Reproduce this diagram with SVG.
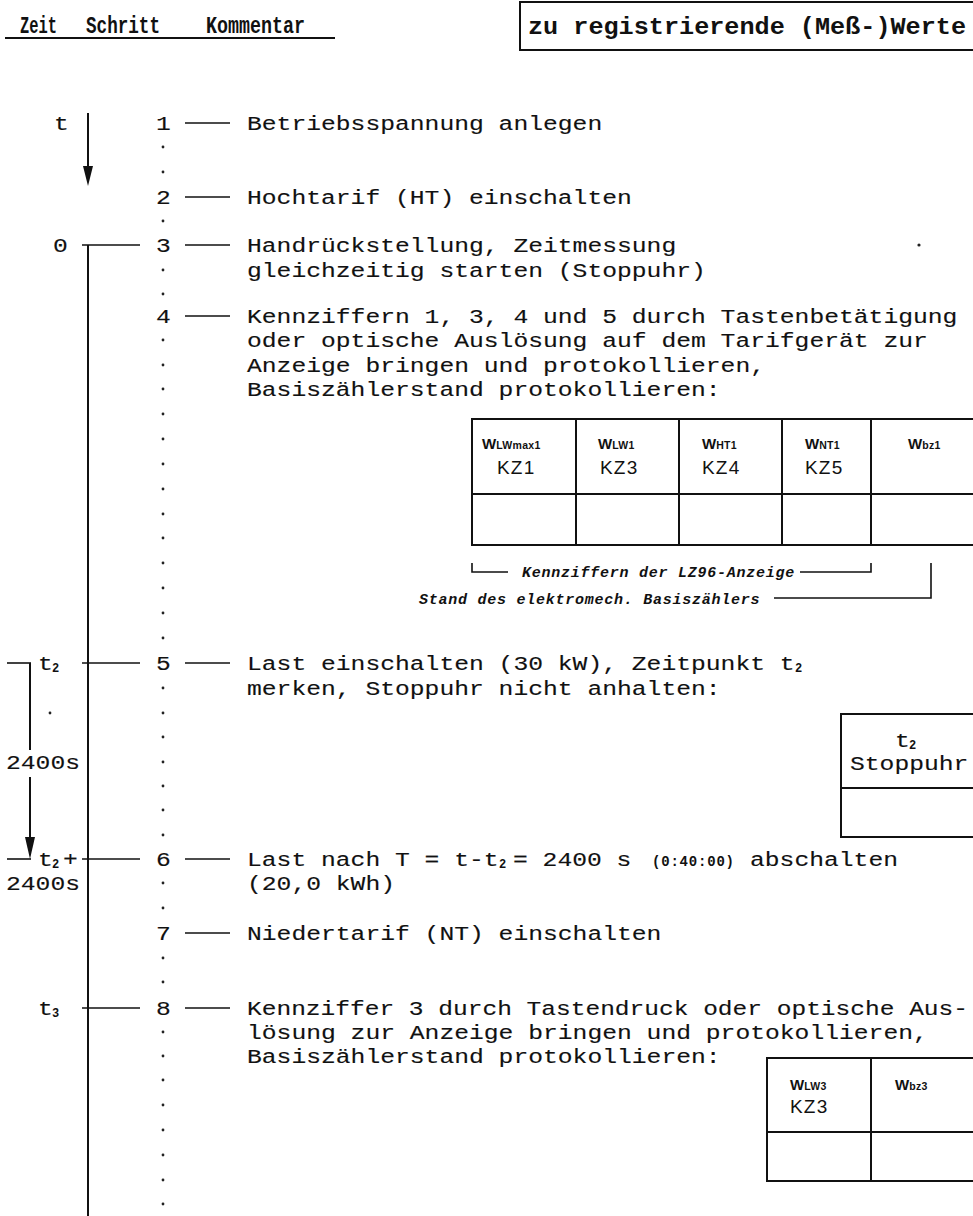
<svg xmlns="http://www.w3.org/2000/svg" width="973" height="1216" viewBox="0 0 973 1216">
<style>
.b{font-family:"Liberation Mono","DejaVu Sans Mono",monospace;font-size:20px;fill:#111;stroke:#111;stroke-width:0.12}
.h{font-family:"Liberation Mono",monospace;font-weight:bold;font-size:23px;fill:#111}
.s2{font-family:"Liberation Mono",monospace;font-size:12px;font-weight:bold;fill:#111}
.sub{font-size:10.5px;letter-spacing:0.3px}
.w{font-family:"Liberation Sans",sans-serif;font-size:15px;font-weight:bold;fill:#111}
.kz{font-family:"Liberation Sans",sans-serif;font-size:19px;letter-spacing:1.2px;fill:#111}
.it{font-family:"Liberation Mono",monospace;font-size:15px;font-weight:bold;font-style:italic;letter-spacing:0.75px;fill:#111}
.sm{font-family:"Liberation Mono",monospace;font-size:14px;font-weight:bold;letter-spacing:0.8px;fill:#111}
.ln{stroke:#111;stroke-width:2;fill:none}
.ds{stroke:#111;stroke-width:1.6;fill:none}
.dot{fill:#222}
</style>
<rect width="973" height="1216" fill="#fff"/>

<g id="header">
  <text class="h" x="20" y="33" textLength="37" lengthAdjust="spacingAndGlyphs">Zeit</text>
  <text class="h" x="86" y="33" textLength="74" lengthAdjust="spacingAndGlyphs">Schritt</text>
  <text class="h" x="206" y="33" textLength="99" lengthAdjust="spacingAndGlyphs">Kommentar</text>
  <line class="ln" x1="5" y1="38" x2="335" y2="38"/>
  <rect class="ln" x="520" y="2" width="470" height="48"/>
  <text class="h" x="528" y="34" textLength="438" lengthAdjust="spacingAndGlyphs">zu registrierende (Meß-)Werte</text>
</g>

<g id="connectors">
  <line class="ln" x1="88" y1="113" x2="88" y2="170"/>
  <polygon points="83,166 93,166 88,186" fill="#111"/>
  <line class="ln" x1="88" y1="245" x2="88" y2="1216"/>
  <line class="ds" x1="82" y1="245" x2="140" y2="245"/>
  <line class="ds" x1="82" y1="663" x2="140" y2="663"/>
  <line class="ds" x1="82" y1="859" x2="140" y2="859"/>
  <line class="ds" x1="82" y1="1008" x2="140" y2="1008"/>
  <line class="ds" x1="7" y1="663" x2="31" y2="663"/>
  <line class="ds" x1="7" y1="859" x2="31" y2="859"/>
  <line class="ln" x1="30" y1="663" x2="30" y2="750"/>
  <line class="ln" x1="30" y1="777" x2="30" y2="842"/>
  <polygon points="25,837 35,837 30,859" fill="#111"/>
  <g class="ds">
    <line x1="185" y1="123" x2="230" y2="123"/>
    <line x1="185" y1="197" x2="230" y2="197"/>
    <line x1="185" y1="245" x2="230" y2="245"/>
    <line x1="185" y1="316" x2="230" y2="316"/>
    <line x1="185" y1="663" x2="230" y2="663"/>
    <line x1="185" y1="859" x2="230" y2="859"/>
    <line x1="185" y1="933" x2="230" y2="933"/>
    <line x1="185" y1="1008" x2="230" y2="1008"/>
  </g>
  <path class="ds" d="M472 563 V572 H508 M800 572 H871 V563 M774 598 H931 V563"/>
</g>

<g id="dots" class="dot">
  <circle cx="163" cy="147" r="1.4"/><circle cx="163" cy="172" r="1.4"/>
  <circle cx="163" cy="221" r="1.4"/>
  <circle cx="163" cy="270" r="1.4"/><circle cx="163" cy="294" r="1.4"/>
  <circle cx="163" cy="340" r="1.4"/><circle cx="163" cy="365" r="1.4"/><circle cx="163" cy="389" r="1.4"/>
  <circle cx="163" cy="414" r="1.4"/><circle cx="163" cy="439" r="1.4"/><circle cx="163" cy="464" r="1.4"/>
  <circle cx="163" cy="489" r="1.4"/><circle cx="163" cy="514" r="1.4"/><circle cx="163" cy="538" r="1.4"/>
  <circle cx="163" cy="563" r="1.4"/><circle cx="163" cy="588" r="1.4"/><circle cx="163" cy="613" r="1.4"/>
  <circle cx="163" cy="638" r="1.4"/>
  <circle cx="163" cy="688" r="1.4"/><circle cx="163" cy="713" r="1.4"/><circle cx="163" cy="737" r="1.4"/>
  <circle cx="163" cy="762" r="1.4"/><circle cx="163" cy="786" r="1.4"/><circle cx="163" cy="810" r="1.4"/>
  <circle cx="163" cy="835" r="1.4"/>
  <circle cx="163" cy="883" r="1.4"/><circle cx="163" cy="908" r="1.4"/>
  <circle cx="163" cy="958" r="1.4"/><circle cx="163" cy="982" r="1.4"/>
  <circle cx="163" cy="1032" r="1.4"/><circle cx="163" cy="1056" r="1.4"/><circle cx="163" cy="1080" r="1.4"/>
  <circle cx="163" cy="1105" r="1.4"/><circle cx="163" cy="1130" r="1.4"/><circle cx="163" cy="1155" r="1.4"/>
  <circle cx="163" cy="1180" r="1.4"/><circle cx="163" cy="1204" r="1.4"/>
  <circle cx="50" cy="713" r="1.4"/>
  <circle cx="919" cy="245" r="1.6"/>
</g>

<g id="time-labels">
  <text class="b" x="54" y="130" textLength="14.8" lengthAdjust="spacingAndGlyphs">t</text>
  <text class="b" x="53" y="252" textLength="14.8" lengthAdjust="spacingAndGlyphs">0</text>
  <text class="b" x="38" y="670" textLength="14.8" lengthAdjust="spacingAndGlyphs">t</text>
  <text class="s2" x="52" y="672">2</text>
  <text class="b" x="6" y="769" textLength="74" lengthAdjust="spacingAndGlyphs">2400s</text>
  <text class="b" x="38" y="866" textLength="14.8" lengthAdjust="spacingAndGlyphs">t</text>
  <text class="s2" x="52" y="868">2</text>
  <text class="b" x="63" y="866" textLength="14.8" lengthAdjust="spacingAndGlyphs">+</text>
  <text class="b" x="6" y="890" textLength="74" lengthAdjust="spacingAndGlyphs">2400s</text>
  <text class="b" x="38" y="1015" textLength="14.8" lengthAdjust="spacingAndGlyphs">t</text>
  <text class="s2" x="52" y="1017">3</text>
</g>

<g id="step1">
  <text class="b" x="156" y="130" textLength="14.8" lengthAdjust="spacingAndGlyphs">1</text>
  <text class="b" x="247" y="130" textLength="355.2" lengthAdjust="spacingAndGlyphs">Betriebsspannung anlegen</text>
</g>
<g id="step2">
  <text class="b" x="156" y="204" textLength="14.8" lengthAdjust="spacingAndGlyphs">2</text>
  <text class="b" x="247" y="204" textLength="384.8" lengthAdjust="spacingAndGlyphs">Hochtarif (HT) einschalten</text>
</g>
<g id="step3">
  <text class="b" x="156" y="252" textLength="14.8" lengthAdjust="spacingAndGlyphs">3</text>
  <text class="b" x="247" y="252" textLength="429.2" lengthAdjust="spacingAndGlyphs">Handrückstellung, Zeitmessung</text>
  <text class="b" x="247" y="277" textLength="458.8" lengthAdjust="spacingAndGlyphs">gleichzeitig starten (Stoppuhr)</text>
</g>
<g id="step4">
  <text class="b" x="156" y="323" textLength="14.8" lengthAdjust="spacingAndGlyphs">4</text>
  <text class="b" x="247" y="323" textLength="710.4" lengthAdjust="spacingAndGlyphs">Kennziffern 1, 3, 4 und 5 durch Tastenbetätigung</text>
  <text class="b" x="247" y="347" textLength="680.8" lengthAdjust="spacingAndGlyphs">oder optische Auslösung auf dem Tarifgerät zur</text>
  <text class="b" x="247" y="372" textLength="518" lengthAdjust="spacingAndGlyphs">Anzeige bringen und protokollieren,</text>
  <text class="b" x="247" y="396" textLength="473.6" lengthAdjust="spacingAndGlyphs">Basiszählerstand protokollieren:</text>
</g>
<g id="table1">
  <rect class="ln" x="472" y="419" width="520" height="126"/>
  <line class="ln" x1="472" y1="494" x2="980" y2="494"/>
  <line class="ln" x1="576" y1="419" x2="576" y2="545"/>
  <line class="ln" x1="679" y1="419" x2="679" y2="545"/>
  <line class="ln" x1="782" y1="419" x2="782" y2="545"/>
  <line class="ln" x1="871" y1="419" x2="871" y2="545"/>
  <text class="w" x="482" y="449">W<tspan class="sub">LWmax1</tspan></text>
  <text class="kz" x="497" y="474">KZ1</text>
  <text class="w" x="598" y="449">W<tspan class="sub">LW1</tspan></text>
  <text class="kz" x="600" y="474">KZ3</text>
  <text class="w" x="702" y="449">W<tspan class="sub">HT1</tspan></text>
  <text class="kz" x="702" y="474">KZ4</text>
  <text class="w" x="805" y="449">W<tspan class="sub">NT1</tspan></text>
  <text class="kz" x="805" y="474">KZ5</text>
  <text class="w" x="908" y="449">W<tspan class="sub">bz1</tspan></text>
  <text class="it" x="522" y="577">Kennziffern der LZ96-Anzeige</text>
  <text class="it" x="419" y="604">Stand des elektromech. Basiszählers</text>
</g>
<g id="step5">
  <text class="b" x="156" y="670" textLength="14.8" lengthAdjust="spacingAndGlyphs">5</text>
  <text class="b" x="247" y="670" textLength="547.6" lengthAdjust="spacingAndGlyphs">Last einschalten (30 kW), Zeitpunkt t</text>
  <text class="s2" x="795" y="672">2</text>
  <text class="b" x="247" y="695" textLength="473.6" lengthAdjust="spacingAndGlyphs">merken, Stoppuhr nicht anhalten:</text>
</g>
<g id="table-stoppuhr">
  <rect class="ln" x="841" y="714" width="150" height="123"/>
  <line class="ln" x1="841" y1="788" x2="980" y2="788"/>
  <text class="b" x="895" y="747" textLength="14.8" lengthAdjust="spacingAndGlyphs">t</text>
  <text class="s2" x="909" y="749">2</text>
  <text class="b" x="850" y="770" textLength="118.4" lengthAdjust="spacingAndGlyphs">Stoppuhr</text>
</g>
<g id="step6">
  <text class="b" x="156" y="866" textLength="14.8" lengthAdjust="spacingAndGlyphs">6</text>
  <text class="b" x="247" y="866" textLength="251.6" lengthAdjust="spacingAndGlyphs">Last nach T = t-t</text>
  <text class="s2" x="499" y="868">2</text>
  <text class="b" x="513" y="866" textLength="118.4" lengthAdjust="spacingAndGlyphs">= 2400 s</text>
  <text class="sm" x="652" y="866">(0:40:00)</text>
  <text class="b" x="750" y="866" textLength="148" lengthAdjust="spacingAndGlyphs">abschalten</text>
  <text class="b" x="247" y="890" textLength="148" lengthAdjust="spacingAndGlyphs">(20,0 kWh)</text>
</g>
<g id="step7">
  <text class="b" x="156" y="940" textLength="14.8" lengthAdjust="spacingAndGlyphs">7</text>
  <text class="b" x="247" y="940" textLength="414.4" lengthAdjust="spacingAndGlyphs">Niedertarif (NT) einschalten</text>
</g>
<g id="step8">
  <text class="b" x="156" y="1015" textLength="14.8" lengthAdjust="spacingAndGlyphs">8</text>
  <text class="b" x="247" y="1015" textLength="721" lengthAdjust="spacingAndGlyphs">Kennziffer 3 durch Tastendruck oder optische Aus-</text>
  <text class="b" x="247" y="1039" textLength="680.8" lengthAdjust="spacingAndGlyphs">lösung zur Anzeige bringen und protokollieren,</text>
  <text class="b" x="247" y="1063" textLength="473.6" lengthAdjust="spacingAndGlyphs">Basiszählerstand protokollieren:</text>
</g>
<g id="table3">
  <rect class="ln" x="767" y="1058" width="220" height="123"/>
  <line class="ln" x1="767" y1="1132" x2="980" y2="1132"/>
  <line class="ln" x1="871" y1="1058" x2="871" y2="1181"/>
  <text class="w" x="790" y="1090">W<tspan class="sub">LW3</tspan></text>
  <text class="kz" x="790" y="1113">KZ3</text>
  <text class="w" x="895" y="1090">W<tspan class="sub">bz3</tspan></text>
</g>
</svg>
